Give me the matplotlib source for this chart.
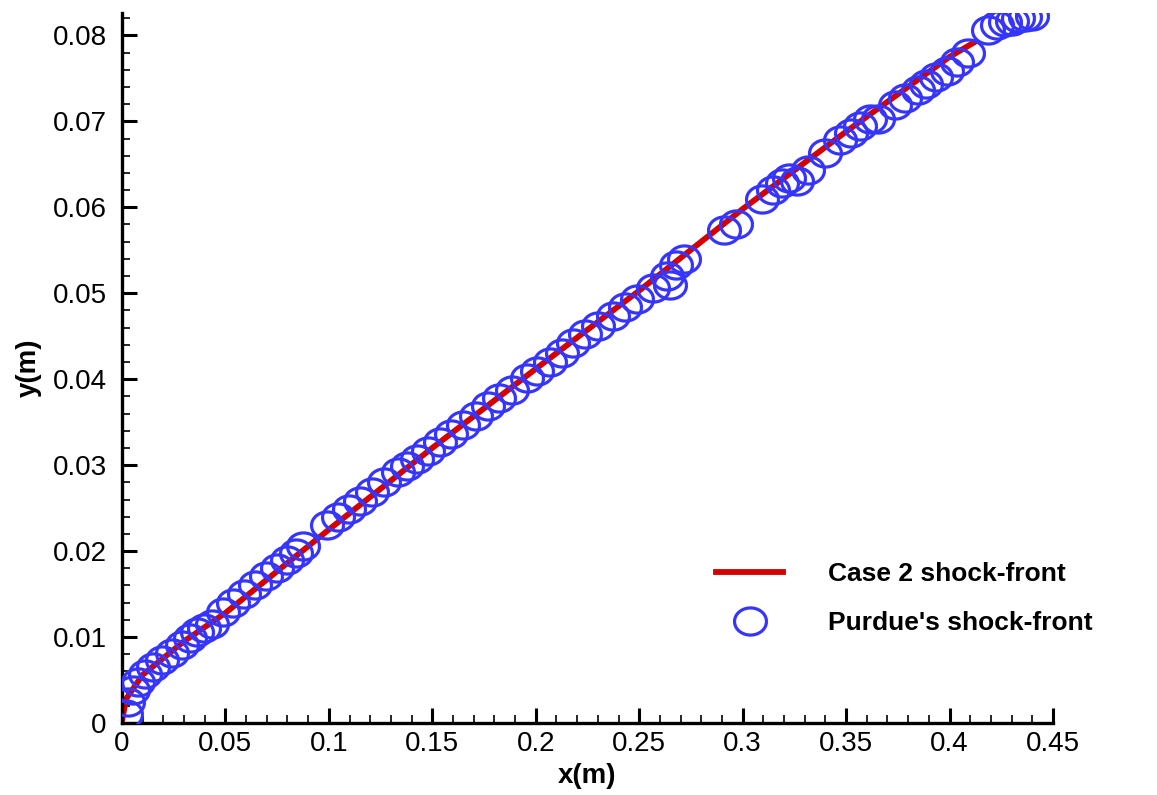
import numpy as np
import matplotlib
matplotlib.use('Agg')
import matplotlib.pyplot as plt
from matplotlib.path import Path
from matplotlib.ticker import MultipleLocator, FuncFormatter

plt.rcParams['font.family'] = ['Liberation Sans', 'DejaVu Sans']

# Case 2 shock-front (solid red line)
case2_x = [0.0, 0.002, 0.01, 0.03, 0.05, 0.10, 0.15, 0.20, 0.25, 0.30, 0.35, 0.40, 0.412]
case2_y = [0.0002, 0.0028, 0.0056, 0.0095, 0.0128, 0.0225, 0.0320, 0.0412, 0.0503, 0.0598, 0.0688, 0.0775, 0.0792]

# Purdue's shock-front (open circles)
purdue_x = [0.0019, 0.0029, 0.0053, 0.0077, 0.0111, 0.0150, 0.0193, 0.0242, 0.0290, 0.0329,
            0.0362, 0.0396, 0.0435, 0.0488, 0.0536, 0.0590, 0.0643, 0.0696, 0.0749, 0.0797,
            0.0841, 0.0875, 0.0991, 0.1044, 0.1097, 0.1150, 0.1208, 0.1266, 0.1334, 0.1377,
            0.1426, 0.1479, 0.1537, 0.1590, 0.1648, 0.1711, 0.1769, 0.1822, 0.1885, 0.1957,
            0.2006, 0.2069, 0.2127, 0.2180, 0.2238, 0.2301, 0.2373, 0.2431, 0.2489, 0.2566,
            0.2634, 0.2649, 0.2678, 0.2716, 0.2910, 0.2968, 0.3093, 0.3146, 0.3190, 0.3224,
            0.3262, 0.3316, 0.3398, 0.3470, 0.3523, 0.3567, 0.3615, 0.3654, 0.3736, 0.3784,
            0.3847, 0.3886, 0.3934, 0.3987, 0.4036, 0.4089, 0.4186, 0.4229, 0.4268, 0.4302,
            0.4331, 0.4364, 0.4398]
purdue_y = [0.0010, 0.0024, 0.0038, 0.0048, 0.0057, 0.0065, 0.0073, 0.0081, 0.0091, 0.0099,
            0.0106, 0.0110, 0.0115, 0.0129, 0.0140, 0.0150, 0.0160, 0.0171, 0.0180, 0.0190,
            0.0198, 0.0206, 0.0230, 0.0240, 0.0249, 0.0258, 0.0269, 0.0280, 0.0292, 0.0299,
            0.0307, 0.0317, 0.0327, 0.0336, 0.0347, 0.0357, 0.0369, 0.0378, 0.0387, 0.0401,
            0.0410, 0.0420, 0.0431, 0.0442, 0.0452, 0.0462, 0.0473, 0.0484, 0.0493, 0.0506,
            0.0520, 0.0509, 0.0533, 0.0540, 0.0573, 0.0581, 0.0610, 0.0620, 0.0628, 0.0634,
            0.0631, 0.0643, 0.0663, 0.0678, 0.0687, 0.0695, 0.0703, 0.0703, 0.0719, 0.0727,
            0.0736, 0.0744, 0.0751, 0.0759, 0.0769, 0.0779, 0.0806, 0.0812, 0.0815, 0.0817,
            0.0820, 0.0821, 0.0823]

# slightly flattened circle, like the tecplot symbol
t = np.linspace(0, 2 * np.pi, 60)
ellipse = Path(np.column_stack([np.cos(t), 0.85 * np.sin(t)]))

fig = plt.figure(figsize=(11.57, 7.95), dpi=100)
ax = fig.add_axes([0.1054, 0.0906, 0.8047, 0.893])

ax.plot(case2_x, case2_y, color='#d40000', linewidth=4.2, label='Case 2 shock-front', zorder=2)
ax.plot(purdue_x, purdue_y, linestyle='none', marker=ellipse, markersize=23,
        markerfacecolor='none', markeredgecolor='#3535ff', markeredgewidth=2.3,
        label="Purdue's shock-front", zorder=3)

ax.set_xlim(0, 0.45)
ax.set_ylim(0, 0.0826)

ax.xaxis.set_major_locator(MultipleLocator(0.05))
ax.xaxis.set_minor_locator(MultipleLocator(0.01))
ax.yaxis.set_major_locator(MultipleLocator(0.01))
ax.yaxis.set_minor_locator(MultipleLocator(0.002))
fmt = FuncFormatter(lambda v, p: '%g' % round(v, 4))
ax.xaxis.set_major_formatter(fmt)
ax.yaxis.set_major_formatter(fmt)

ax.tick_params(which='major', direction='in', length=11, width=2.2, labelsize=20)
ax.tick_params(which='minor', direction='in', length=5.5, width=1.2)
ax.tick_params(axis='x', which='major', pad=6)
ax.tick_params(axis='y', which='major', pad=11)

for side in ['top', 'right']:
    ax.spines[side].set_visible(False)
for side in ['left', 'bottom']:
    ax.spines[side].set_linewidth(2.4)

ax.set_xlabel('x(m)', fontsize=20, fontweight='bold', labelpad=4)
ax.set_ylabel('y(m)', fontsize=20, fontweight='bold', labelpad=8)

leg = ax.legend(loc='upper left', bbox_to_anchor=(716 / 1157, 1 - 562 / 795),
                bbox_transform=fig.transFigure, frameon=False,
                prop={'weight': 'bold', 'size': 19}, handlelength=2.55,
                handletextpad=1.7, labelspacing=0.95, borderpad=0, borderaxespad=0)

fig.savefig('out.png', dpi=100)
